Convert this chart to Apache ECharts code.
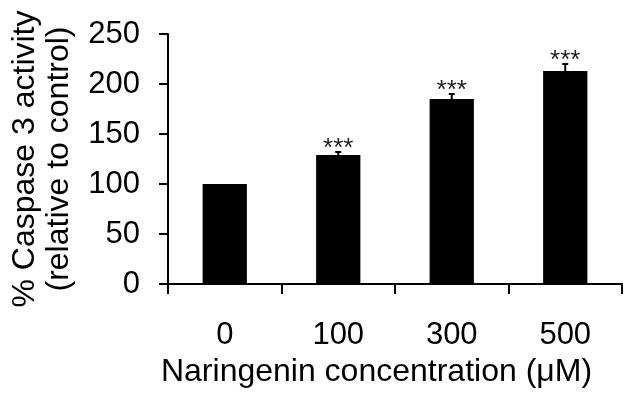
<!DOCTYPE html>
<html>
<head>
<meta charset="utf-8">
<script src="https://cdn.jsdelivr.net/npm/echarts@6/dist/echarts.min.js"></script>
<style>
  html, body { margin: 0; padding: 0; background: #fff; }
  #chart { width: 634px; height: 400px; }
</style>
</head>
<body>
<div id="chart"></div>
<script>
// 数据：Naringenin 浓度 vs Caspase 3 活性
const categories = ['0', '100', '300', '500']
const means      = [100, 129, 185, 213]
const errors     = [0, 3, 5, 7]
const sigMarks   = ['', '***', '***', '***']
const yTicks     = { min: 0, max: 250, interval: 50 }

const FONT = "'Liberation Sans', Arial, sans-serif"

const chart = echarts.init(document.getElementById('chart'))

// 误差线 + 显著性星号
function renderErr(params, api) {
  const idx = api.value(0)
  const mean = api.value(1)
  const err = api.value(2)
  const base = api.coord([idx, mean])
  const top = api.coord([idx, mean + err])
  const children = []
  if (err > 0) {
    children.push({
      type: 'line',
      shape: { x1: base[0], y1: base[1], x2: top[0], y2: top[1] },
      style: { stroke: '#000', lineWidth: 2 },
    })
    children.push({
      type: 'line',
      shape: { x1: top[0] - 3, y1: top[1], x2: top[0] + 3, y2: top[1] },
      style: { stroke: '#000', lineWidth: 2 },
    })
  }
  const mark = sigMarks[idx]
  if (mark) {
    // 星号字形位于字框上部，向下偏移使其贴近误差线
    children.push({
      type: 'text',
      x: top[0],
      y: top[1] + 10,
      style: {
        text: mark,
        fill: '#222',
        font: '26px ' + FONT,
        align: 'center',
        verticalAlign: 'bottom',
      },
    })
  }
  return { type: 'group', children }
}

chart.setOption({
  animation: false,
  grid: { left: 168, right: 12, top: 34, bottom: 116 },
  xAxis: {
    type: 'category',
    data: categories,
    name: 'Naringenin concentration (μM)',
    nameLocation: 'middle',
    nameGap: 62,
    nameTextStyle: { color: '#000', fontSize: 32, fontFamily: FONT, padding: [0, 37, 0, 0] },
    axisLine: { lineStyle: { color: '#000', width: 2 } },
    axisTick: { show: true, length: 10, lineStyle: { color: '#000', width: 2 } },
    axisLabel: { color: '#000', fontSize: 31, fontFamily: FONT, margin: 36 },
  },
  yAxis: {
    type: 'value',
    min: yTicks.min, max: yTicks.max, interval: yTicks.interval,
    name: '% Caspase 3 activity\n(relative to control)',
    nameLocation: 'middle',
    nameGap: 92,
    nameTextStyle: { color: '#000', fontSize: 32, fontFamily: FONT, lineHeight: 34 },
    axisLine: { show: true, lineStyle: { color: '#000', width: 2 } },
    axisTick: { show: true, length: 9, lineStyle: { color: '#000', width: 2 } },
    axisLabel: { color: '#000', fontSize: 31, fontFamily: FONT, margin: 28 },
    splitLine: { show: false },
  },
  series: [
    {
      type: 'bar',
      data: means,
      barWidth: '39%',
      itemStyle: { color: '#000' },
      z: 2,
    },
    {
      type: 'custom',
      renderItem: renderErr,
      data: means.map((m, i) => [i, m, errors[i]]),
      z: 3,
    },
  ],
})
</script>
</body>
</html>
